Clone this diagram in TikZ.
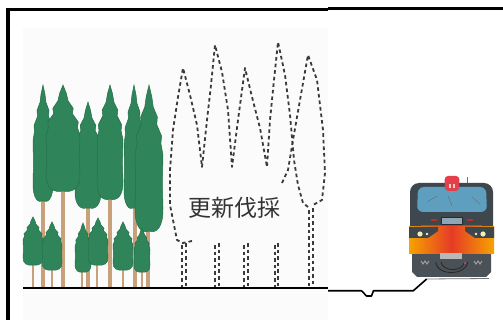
\documentclass[tikz,border=0pt]{standalone}
\usepackage{fontspec}
\newfontfamily\cjkfont{Noto Sans CJK JP}
\definecolor{treegreen}{HTML}{2F8559}
\definecolor{treeedge}{HTML}{23704A}
\definecolor{trunktan}{HTML}{C8A07A}
\definecolor{dashcol}{HTML}{3A3A3A}
\definecolor{labelgrey}{HTML}{333333}
\definecolor{bodydark}{HTML}{3E474E}
\definecolor{bodylower}{HTML}{4A5258}
\definecolor{winblue}{HTML}{5E9FC0}
\definecolor{lampred}{HTML}{E5404A}
\definecolor{bandorange}{HTML}{F5A300}
\definecolor{bandred}{HTML}{E63B26}
\definecolor{panelgrey}{HTML}{8FA6B4}
\definecolor{lampyellow}{HTML}{F3EFB2}
\tikzset{
  pics/crown/.style 2 args={code={
    \fill[treegreen, draw=treeedge, line width=0.5pt]
      (0,0) -- ({0.2*#1},{0.08*#2}) -- ({0.3*#1},{0.15*#2}) -- ({0.6*#1},{0.22*#2})
      -- ({0.55*#1},{0.27*#2}) -- ({0.9*#1},{0.35*#2}) -- ({0.85*#1},{0.4*#2})
      -- ({#1},{0.48*#2}) -- ({0.95*#1},{0.68*#2}) -- ({#1},{0.84*#2})
      .. controls ({1.03*#1},{0.98*#2}) and ({0.5*#1},{1.02*#2}) .. (0,{#2})
      .. controls ({-0.5*#1},{1.02*#2}) and ({-1.03*#1},{0.98*#2}) .. ({-#1},{0.84*#2})
      -- ({-0.95*#1},{0.68*#2}) -- ({-#1},{0.48*#2}) -- ({-0.85*#1},{0.4*#2})
      -- ({-0.9*#1},{0.35*#2}) -- ({-0.55*#1},{0.27*#2}) -- ({-0.6*#1},{0.22*#2})
      -- ({-0.3*#1},{0.15*#2}) -- ({-0.2*#1},{0.08*#2}) -- cycle;
  }},
  felled/.style={draw=dashcol, line width=1.8pt, dash pattern=on 3.6pt off 3pt, line join=round},
  bigtrunk/.style={draw=trunktan, line width=3.6pt},
  smalltrunk/.style={draw=trunktan, line width=2.6pt},
  frameline/.style={line width=3.4pt},
  trackline/.style={line width=1.6pt, line join=round}
}
\begin{document}
\begin{tikzpicture}[x=1pt,y=-1pt]
\useasboundingbox (0,0) rectangle (503,320);

% backdrop of the forest panel
\fill[black!1.5] (23,28) rectangle (328,320);

% outer frame
\draw[frameline] (8,320) -- (8,9.5) -- (328,9.5);
\draw[line width=3pt] (328,8.7) -- (503,8.7);

% tall trees: trunks, then crowns
\foreach \tx/\ty in {43/200,63/190,88/207,110/198,135/207,148/230}
  \draw[bigtrunk] (\tx,\ty) -- (\tx,288);
\foreach \cx/\top/\w/\h in {43/85/10/116,88/102/13/106,63/85/17/106,110/85/13/114,134/85/10/123,149/85/14/146}
  \pic at (\cx,\top) {crown={\w}{\h}};

% young trees in front
\foreach \tx in {33,52,82,97,123,142}
  \draw[smalltrunk] (\tx,250) -- (\tx,288);
\foreach \cx/\top/\w/\h in {33/217/10/48,52/222/10/48,83/223/8/49,98/218/10/47,123/222/10/48,142/228/8/44}
  \pic at (\cx,\top) {crown={\w}{\h}};

% outlines of the felled trees
\draw[felled] (192,241) -- (183,243) -- (177,240) -- (170,205) -- (170,170) -- (173,130)
  -- (178,97) -- (183,68) -- (190,95) -- (197,125) -- (202,167)
  -- (207,120) -- (211,85) -- (215,45) -- (222,72) -- (228,110) -- (232,167)
  -- (238,120) -- (245,68) -- (252,97) -- (260,128) -- (267,167)
  -- (270,120) -- (274,80) -- (278,42) -- (285,75) -- (290,115) -- (294,160)
  -- (298,185) -- (303,203) -- (308,207);
\draw[felled] (282,183) -- (288,170) -- (293,140) -- (300,100) -- (308,55) -- (317,80)
  -- (323,130) -- (325,173) -- (322,200) -- (313,205);
\foreach \xa/\xb/\ya in {182/186/243,215/219/243,244/248/243,275/278/243,309/313/208}{
  \draw[felled] (\xa,\ya+2) -- (\xa,287);
  \draw[felled] (\xb,\ya) -- (\xb,287);
}

\node[font=\cjkfont\fontsize{23}{23}\selectfont, text=labelgrey, inner sep=0pt]
  (label) at (234.5,208) {更新伐採};

% ground
\draw[line width=2pt] (23,288) -- (328,288);

% track leading to the train
\coordinate (t0) at (328,290.7);
\coordinate (t1) at (361.5,290.7);
\coordinate (t2) at (366.5,296);
\coordinate (t3) at (371.5,296);
\coordinate (t4) at (373.5,290.7);
\coordinate (t5) at (413.3,290.7);
\coordinate (t6) at (426.7,279);
\coordinate (t7) at (489,278.5);
\draw[trackline] (t0) -- (t1) -- (t2) -- (t3) -- (t4) -- (t5) -- (t6);
\draw[black!55, line width=0.8pt] (t6) -- (t7);

% train front
\draw[black!55, line width=1pt] (467,177) -- (467,184);
\fill[bodylower] (412,250) -- (491,250) -- (491,272) -- (486,277) -- (417,277) -- (412,272) -- cycle;
\fill[bodydark, rounded corners=9pt] (410,240) -- (410,183) -- (493,183) -- (493,240) -- cycle;
\fill[winblue, rounded corners=6pt] (417,212) -- (418,187) -- (486,187) -- (487,212) -- cycle;
\draw[bodydark!80, line width=0.4pt] (427,202) -- (437,196) (448,196) -- (452,206) (472,197) -- (480,204);
\fill[bandred!80!black] (431,219) rectangle (437,221.5);
\fill[bandred!80!black] (467,219) rectangle (473,221.5);
\fill[panelgrey, draw=bodydark!60!black, line width=0.4pt] (441,217) rectangle (462,224);
\draw[teal!80!green, line width=0.9pt] (421,225) -- (482,225);
\draw[blue!60!black, line width=0.6pt] (423,226.3) -- (480,226.3);
\shade[left color=bandorange, right color=bandorange, middle color=bandred] (409,227) rectangle (494,254);
\fill[bodydark] (409,227) -- (409,238) -- (428,238) -- (438,231) -- (438,227) -- cycle;
\fill[bodydark] (494,227) -- (494,238) -- (475,238) -- (465,231) -- (465,227) -- cycle;
\fill[lampyellow] (420,234) circle (2.6);
\fill[lampyellow!80!white] (427,234) circle (1.4);
\fill[lampyellow] (483,234) circle (2.6);
\fill[lampyellow!80!white] (476,234) circle (1.4);
\fill[lampred, rounded corners=3.5pt] (445,191) -- (444.5,176) -- (459.5,176) -- (459,191) -- cycle;
\fill[red!20] (448.5,184) rectangle (450.5,188);
\fill[red!20] (452.5,184) rectangle (454.5,188);
% lower fittings
\fill[gray!55] (440,253) rectangle (462,259);
\draw[gray!70, line width=0.9pt] (421,261) -- (423,264) -- (425,261) -- (427,264) -- (429,261)
  (474,261) -- (476,264) -- (478,261) -- (480,264) -- (482,261);
\draw[black!85, line width=0.8pt] (436,262) .. controls (436,276) and (466,276) .. (468,262);
\draw[black!85, line width=0.8pt] (441,262) .. controls (443,272) and (462,272) .. (464,263);
\fill[lampred] (465,263) circle (1.2);
\end{tikzpicture}
\end{document}
